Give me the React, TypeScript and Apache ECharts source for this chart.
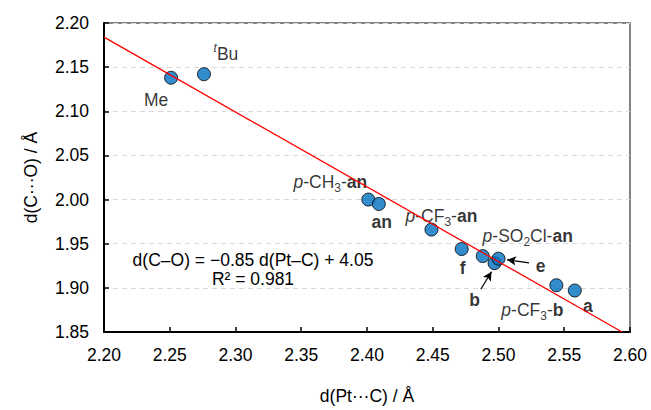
import React, { useEffect, useRef } from "react";
import * as echarts from "echarts";

// Data
const pointLabels = ["Me", "tBu", "p-CH3-an", "an", "p-CF3-an", "f", "p-SO2Cl-an", "b", "e", "p-CF3-b", "a"];
const ptC = [2.251, 2.276, 2.401, 2.409, 2.449, 2.472, 2.488, 2.497, 2.500, 2.544, 2.558];
const cO = [2.138, 2.142, 2.000, 1.995, 1.966, 1.944, 1.936, 1.928, 1.933, 1.903, 1.897];

// fitted line d(C–O) = −0.85 d(Pt–C) + 4.05 (end points)
const fitX = [2.2, 2.594];
const fitY = [2.184, 1.85];

const xTicks = [2.2, 2.25, 2.3, 2.35, 2.4, 2.45, 2.5, 2.55, 2.6];
const yTicks = [1.85, 1.9, 1.95, 2.0, 2.05, 2.1, 2.15, 2.2];

// arrows pointing at e and b: [fromX, fromY, toX, toY]
const arrowE = [2.5232, 1.9284, 2.5065, 1.9318];
const arrowB = [2.4865, 1.8984, 2.4947, 1.9183];

const equationText = "d(C–O) = −0.85 d(Pt–C) + 4.05";
const r2Text = "R² = 0.981";
const equationAt = [2.3133, 1.9321];
const r2At = [2.3133, 1.9097];

// label layout (rich text + offset from the marker)
const labelLayout: Record<string, { text: string; offset: [number, number] }> = {
  Me: { text: "{n|Me}", offset: [-15, 22] },
  tBu: { text: "{sup|t}{n|Bu}", offset: [22, -20] },
  "p-CH3-an": { text: "{i|p}{n|-CH}{s|3}{n|-}{b|an}", offset: [-38, -18] },
  an: { text: "{b|an}", offset: [3, 18] },
  "p-CF3-an": { text: "{i|p}{n|-CF}{s|3}{n|-}{b|an}", offset: [10, -14] },
  f: { text: "{b|f}", offset: [1, 19] },
  "p-SO2Cl-an": { text: "{i|p}{n|-SO}{s|2}{n|Cl-}{b|an}", offset: [45, -20] },
  b: { text: "{b|b}", offset: [-20, 37] },
  e: { text: "{b|e}", offset: [42, 7] },
  "p-CF3-b": { text: "{i|p}{n|-CF}{s|3}{n|-}{b|b}", offset: [-24, 25] },
  a: { text: "{b|a}", offset: [13, 15] },
};

const FONT = "'Liberation Sans', Arial, sans-serif";
const FS = 17.5;

const rich = {
  n: { fontSize: FS, fontFamily: FONT, color: "#000", lineHeight: 24 },
  i: { fontSize: FS, fontFamily: FONT, color: "#000", fontStyle: "italic", lineHeight: 24 },
  b: { fontSize: FS, fontFamily: FONT, color: "#000", fontWeight: "bold", lineHeight: 24 },
  s: { fontSize: 12, fontFamily: FONT, color: "#000", lineHeight: 12, verticalAlign: "bottom" },
  sup: { fontSize: 12, fontFamily: FONT, color: "#000", fontStyle: "italic", lineHeight: 12, verticalAlign: "top" },
};

export default function App() {
  const ref = useRef<HTMLDivElement>(null);
  useEffect(() => {
    if (!ref.current) return;
    const chart = echarts.init(ref.current, null, { renderer: "svg" });
    const scatterData = pointLabels.map((name, k) => ({
      value: [ptC[k], cO[k]],
      name,
      label: {
        show: true,
        position: "inside",
        offset: labelLayout[name].offset,
        formatter: labelLayout[name].text,
        rich,
        color: "#000",
        align: "center",
        verticalAlign: "middle",
      },
    }));
    const textLabel = (s: string) => ({
      show: true,
      formatter: s,
      fontSize: FS,
      fontFamily: FONT,
      color: "#000",
      position: "inside",
    });
    chart.setOption({
      animation: false,
      backgroundColor: "#fff",
      grid: {
        left: 104,
        right: 21,
        top: 23,
        bottom: 75,
        show: true,
        borderColor: "#595959",
        borderWidth: 1.5,
        backgroundColor: "transparent",
      },
      xAxis: {
        type: "value",
        min: xTicks[0],
        max: xTicks[xTicks.length - 1],
        interval: 0.05,
        name: "d(Pt···C) / Å",
        nameLocation: "middle",
        nameGap: 55,
        nameTextStyle: { fontSize: FS, fontFamily: FONT, color: "#000" },
        axisLine: { show: true, lineStyle: { color: "#000", width: 2 } },
        axisTick: { show: true, inside: true, length: 5, lineStyle: { color: "#000", width: 1.5 } },
        axisLabel: {
          fontSize: FS,
          fontFamily: FONT,
          color: "#000",
          margin: 14,
          formatter: (v: number) => v.toFixed(2),
        },
        splitLine: { show: false },
      },
      yAxis: {
        type: "value",
        min: yTicks[0],
        max: yTicks[yTicks.length - 1],
        interval: 0.05,
        name: "d(C···O) / Å",
        nameLocation: "middle",
        nameGap: 64,
        nameTextStyle: { fontSize: FS, fontFamily: FONT, color: "#000" },
        axisLine: { show: true, lineStyle: { color: "#000", width: 2 } },
        axisTick: { show: true, inside: true, length: 5, lineStyle: { color: "#000", width: 1.5 } },
        axisLabel: {
          fontSize: FS,
          fontFamily: FONT,
          color: "#000",
          margin: 15,
          formatter: (v: number) => v.toFixed(2),
        },
        splitLine: { show: true, lineStyle: { color: "#d9d9d9", type: [5, 4], width: 1 } },
      },
      series: [
        {
          type: "scatter",
          symbol: "circle",
          symbolSize: 13,
          itemStyle: { color: "#0070C0", borderColor: "#000", borderWidth: 1 },
          data: scatterData,
          z: 2,
          markLine: {
            silent: true,
            symbol: ["none", "arrow"],
            symbolSize: [7, 9],
            lineStyle: { color: "#000", width: 1.2, type: "solid" },
            label: { show: false },
            data: [
              [{ coord: [arrowE[0], arrowE[1]] }, { coord: [arrowE[2], arrowE[3]] }],
              [{ coord: [arrowB[0], arrowB[1]] }, { coord: [arrowB[2], arrowB[3]] }],
            ],
          },
        },
        {
          type: "line",
          data: fitX.map((x, k) => [x, fitY[k]]),
          symbol: "none",
          lineStyle: { color: "#ff0000", width: 1.3 },
          z: 3,
        },
        {
          type: "scatter",
          data: [],
          markPoint: {
            silent: true,
            symbol: "circle",
            symbolSize: 0,
            data: [
              { coord: equationAt, label: textLabel(equationText) },
              { coord: r2At, label: textLabel(r2Text) },
            ],
          },
        },
      ],
    });
    return () => chart.dispose();
  }, []);
  return (
    <div
      ref={ref}
      style={{ position: "fixed", left: 0, top: 0, width: 651, height: 410 }}
    />
  );
}
